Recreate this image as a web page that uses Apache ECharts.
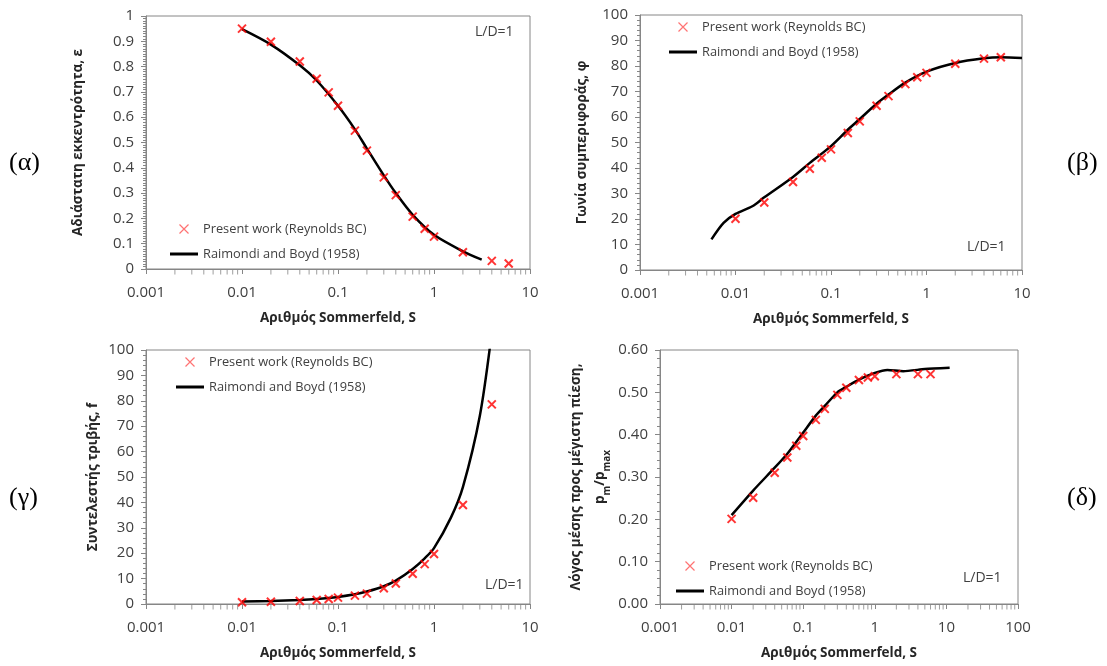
<!DOCTYPE html>
<html>
<head>
<meta charset="utf-8">
<script src="https://cdn.jsdelivr.net/npm/echarts@6/dist/echarts.min.js"></script>
<style>
  html, body { margin: 0; padding: 0; background: #fff; }
  #main { width: 1107px; height: 666px; }
</style>
</head>
<body>
<div id="main"></div>
<script>
// Sommerfeld numbers of the present work (Reynolds BC) points
const sPresent = [0.01, 0.02, 0.04, 0.06, 0.08, 0.1, 0.15, 0.2, 0.3, 0.4, 0.6, 0.8, 1, 2, 4, 6];
const sPresentF = [0.01, 0.02, 0.04, 0.06, 0.08, 0.1, 0.15, 0.2, 0.3, 0.4, 0.6, 0.8, 1, 2, 4];

// (α) eccentricity
const epsPresent = [0.95, 0.898, 0.82, 0.752, 0.698, 0.645, 0.547, 0.468, 0.362, 0.292, 0.207, 0.159, 0.128, 0.066, 0.032, 0.022];
const epsLineS = [0.01, 0.02, 0.04, 0.06, 0.1, 0.15, 0.2, 0.3, 0.4, 0.6, 1, 2, 3.14];
const epsLine = [0.948, 0.887, 0.805, 0.745, 0.645, 0.552, 0.476, 0.37, 0.3, 0.214, 0.135, 0.07, 0.037];

// (β) attitude angle
const phiPresent = [20.1, 26.5, 34.5, 39.7, 44.0, 47.3, 53.7, 58.3, 64.4, 68.2, 72.9, 75.6, 77.3, 80.9, 82.9, 83.4];
const phiLineS = [0.0056, 0.0075, 0.01, 0.015, 0.02, 0.04, 0.06, 0.1, 0.15, 0.2, 0.3, 0.4, 0.6, 1, 2, 4, 6, 10];
const phiLine = [12, 18.5, 22, 25, 28.5, 36.5, 42, 48.6, 55, 59.2, 65.2, 68.8, 73.5, 77.8, 81.2, 83, 83.4, 83.1];

// (γ) friction coefficient
const fPresent = [0.7, 0.9, 1.2, 1.6, 2.0, 2.5, 3.3, 4.1, 6.2, 8.1, 11.9, 15.7, 19.7, 39.0, 78.6];
const fLineS = [0.01, 0.02, 0.04, 0.06, 0.1, 0.15, 0.2, 0.3, 0.4, 0.6, 0.8, 1, 1.5, 2, 3, 4];
const fLine = [1.0, 1.2, 1.6, 2.0, 2.8, 3.8, 4.9, 7.0, 9.2, 13.8, 18, 22, 34, 46, 74, 107];

// (δ) mean to max pressure ratio
const pPresent = [0.201, 0.251, 0.310, 0.346, 0.374, 0.397, 0.435, 0.461, 0.494, 0.511, 0.529, 0.535, 0.538, 0.543, 0.543, 0.543];
const pLineS = [0.01, 0.02, 0.04, 0.06, 0.1, 0.15, 0.2, 0.3, 0.4, 0.6, 1, 1.5, 2.5, 5, 11.1];
const pLine = [0.21, 0.268, 0.322, 0.355, 0.405, 0.445, 0.468, 0.5, 0.513, 0.53, 0.546, 0.553, 0.55, 0.555, 0.558];

// minor tick positions of the log axes
const minorTickVals = [
  0.002, 0.003, 0.004, 0.005, 0.006, 0.007, 0.008, 0.009,
  0.02, 0.03, 0.04, 0.05, 0.06, 0.07, 0.08, 0.09,
  0.2, 0.3, 0.4, 0.5, 0.6, 0.7, 0.8, 0.9,
  2, 3, 4, 5, 6, 7, 8, 9,
  20, 30, 40, 50, 60, 70, 80, 90
];

const NAME_P = "Present work (Reynolds BC)";
const NAME_R = "Raimondi and Boyd (1958)";
const FONT = "'Open Sans', 'Noto Sans', sans-serif";
const SERIF = "'Liberation Serif', 'DejaVu Serif', serif";
const AXIS_C = "#868686";
const TEXT_C = "#404040";
const CROSS = "path://M0,0L10,10M10,0L0,10";

const zip = (xs, ys) => xs.map((x, i) => [x, ys[i]]);

const grids = [
  { left: 146, top: 16, width: 384, height: 253 },
  { left: 640, top: 15, width: 382, height: 255 },
  { left: 146, top: 350, width: 384, height: 254 },
  { left: 660, top: 350, width: 358, height: 254 }
];

function xAxisOf(i, max) {
  return {
    gridIndex: i,
    type: "log",
    logBase: 10,
    min: 0.001,
    max: max,
    name: "Αριθμός Sommerfeld, S",
    nameLocation: "middle",
    nameGap: 42,
    nameTextStyle: { fontFamily: FONT, fontSize: 13.5, fontWeight: "bold", color: "#262626" },
    axisLine: { lineStyle: { color: AXIS_C, width: 1 } },
    axisTick: { show: true, length: 5, lineStyle: { color: AXIS_C } },
    axisLabel: {
      fontFamily: FONT, fontSize: 15, color: TEXT_C, margin: 16,
      formatter: v => String(v)
    },
    splitLine: { show: false }
  };
}

function yAxisOf(i, opt) {
  return Object.assign({
    gridIndex: i,
    type: "value",
    nameLocation: "middle",
    nameRotate: 90,
    nameTextStyle: { fontFamily: FONT, fontSize: 13.5, fontWeight: "bold", color: "#262626" },
    axisLine: { show: true, lineStyle: { color: AXIS_C, width: 1 } },
    axisTick: { show: true, length: 5, lineStyle: { color: AXIS_C } },
    axisLabel: { fontFamily: FONT, fontSize: 15, color: TEXT_C, margin: 12 },
    splitLine: { show: false }
  }, opt);
}

function minor(n) {
  return { show: true, splitNumber: n, length: 3, lineStyle: { color: AXIS_C, width: 1 } };
}

function panelSeries(i, xMax, yMin, pts, lineS, lineV, smooth) {
  return [
    {
      name: NAME_P,
      type: "scatter",
      xAxisIndex: i, yAxisIndex: i,
      symbol: CROSS,
      symbolSize: 8,
      itemStyle: { color: "rgba(0,0,0,0)", borderColor: "#ff0000", borderWidth: 2 },
      data: pts,
      z: 4
    },
    {
      name: NAME_R,
      type: "line",
      xAxisIndex: i, yAxisIndex: i,
      showSymbol: false,
      symbol: "none",
      smooth: smooth,
      lineStyle: { color: "#000", width: 2.5 },
      itemStyle: { color: "#000" },
      data: zip(lineS, lineV),
      z: 3
    },
    {
      type: "scatter",
      xAxisIndex: i, yAxisIndex: i,
      silent: true,
      clip: false,
      symbol: "rect",
      symbolSize: [1, 5],
      symbolOffset: [0, 3],
      itemStyle: { color: AXIS_C },
      data: minorTickVals.filter(v => v < xMax).map(v => [v, yMin]),
      z: 5
    }
  ];
}

function legendOf(left, top) {
  return {
    left: left, top: top,
    padding: 0,
    orient: "vertical",
    itemWidth: 28, itemHeight: 9, itemGap: 11,
    selectedMode: false,
    textStyle: { fontFamily: FONT, fontSize: 12.8, color: TEXT_C, lineHeight: 14 },
    data: [
      { name: NAME_P, icon: CROSS, itemStyle: { color: "rgba(0,0,0,0)", borderColor: "#ff5050", borderWidth: 1.2 } },
      { name: NAME_R, icon: "path://M0,0H28V3H0Z", itemStyle: { color: "#000", borderWidth: 0 } }
    ]
  };
}

function label(text, x, y, size, family) {
  return {
    type: "text", left: x, top: y,
    style: { text: text, fontFamily: family, fontSize: size, fill: family === FONT ? TEXT_C : "#000" }
  };
}

const chart = echarts.init(document.getElementById("main"), null, { renderer: "canvas" });
chart.setOption({
  animation: false,
  backgroundColor: "#fff",
  grid: grids.map(g => Object.assign({ show: true, borderColor: AXIS_C, borderWidth: 1, containLabel: false }, g)),
  xAxis: [xAxisOf(0, 10), xAxisOf(1, 10), xAxisOf(2, 10), xAxisOf(3, 100)],
  yAxis: [
    yAxisOf(0, { min: 0, max: 1, interval: 0.1, name: "Αδιάστατη εκκεντρότητα, ε", nameGap: 61, minorTick: minor(10) }),
    yAxisOf(1, { min: 0, max: 100, interval: 10, name: "Γωνία συμπεριφοράς, φ", nameGap: 51, minorTick: minor(5) }),
    yAxisOf(2, { min: 0, max: 100, interval: 10, name: "Συντελεστής τριβής, f", nameGap: 46, minorTick: minor(5) }),
    yAxisOf(3, {
      min: 0, max: 0.6, interval: 0.1, nameGap: 48,
      minorTick: minor(5),
      axisLabel: { fontFamily: FONT, fontSize: 15, color: TEXT_C, margin: 12, formatter: v => v.toFixed(2) },
      name: "{t|Λόγος μέσης προς μέγιστη πίεση,}\n{t|p}{s|m}{t|/p}{s|max}",
      nameTextStyle: {
        rich: {
          t: { fontFamily: FONT, fontSize: 13.5, fontWeight: "bold", color: "#262626", lineHeight: 24 },
          s: { fontFamily: FONT, fontSize: 10, fontWeight: "bold", color: "#262626", lineHeight: 12, verticalAlign: "bottom" }
        }
      }
    })
  ],
  legend: [legendOf(170, 222), legendOf(669, 20), legendOf(176, 355), legendOf(676, 559)],
  graphic: [
    label("L/D=1", 475, 25, 14, FONT),
    label("L/D=1", 967, 240, 14, FONT),
    label("L/D=1", 485, 578, 14, FONT),
    label("L/D=1", 963, 571, 14, FONT),
    label("(α)", 9, 150, 26, SERIF),
    label("(β)", 1067, 150, 26, SERIF),
    label("(γ)", 9, 485, 26, SERIF),
    label("(δ)", 1067, 485, 26, SERIF)
  ],
  series: [].concat(
    panelSeries(0, 10, 0, zip(sPresent, epsPresent), epsLineS, epsLine, 0.3),
    panelSeries(1, 10, 0, zip(sPresent, phiPresent), phiLineS, phiLine, 0.3),
    panelSeries(2, 10, 0, zip(sPresentF, fPresent), fLineS, fLine, 0.3),
    panelSeries(3, 100, 0, zip(sPresent, pPresent), pLineS, pLine, 0.2)
  )
});
</script>
</body>
</html>
